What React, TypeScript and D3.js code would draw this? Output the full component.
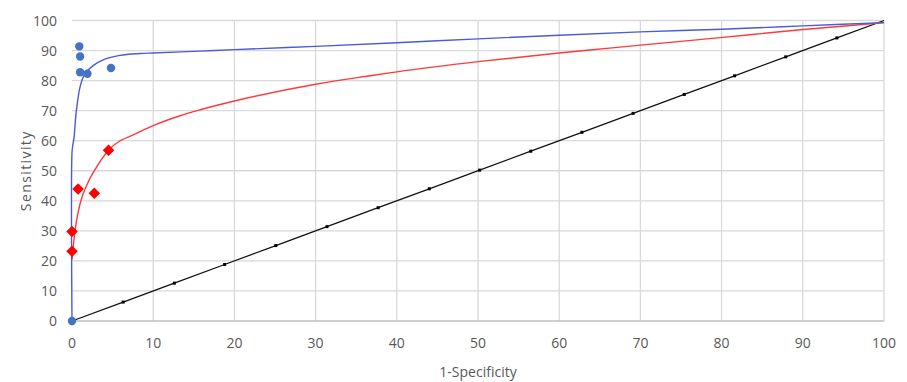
import { useRef, useEffect } from "react";
import * as d3 from "d3";

// fitted ROC curves
const blueCurveX = [0, 0, 0.1, 0.25, 0.5, 1, 1.6, 2.6, 3.9, 5.9, 8.4, 10, 15.8, 20, 30, 40, 50, 60, 70, 80, 90, 100];
const blueCurveY = [0, 56, 58.5, 61, 69, 78, 82.3, 85, 87, 88.4, 89, 89.2, 89.8, 90.3, 91.4, 92.6, 93.9, 95.1, 96.2, 97.1, 98.2, 99.3];

const redCurveX = [0, 0.05, 0.2, 0.5, 1, 1.9, 2.8, 4.5, 8, 10, 13.3, 15.8, 20, 30, 36.7, 40, 50, 60, 66.2, 70, 79.8, 89.7, 100];
const redCurveY = [20.5, 21.5, 26, 32.4, 39.1, 45.7, 50.2, 56.8, 62.5, 65, 68.3, 70.3, 73.2, 78.8, 81.6, 82.9, 86.3, 89.2, 90.8, 91.8, 94.3, 96.9, 99.3];

// observed study points
const blueX = [0, 0.9, 1.0, 1.0, 1.9, 4.8];
const blueY = [0, 91.4, 88, 82.8, 82.3, 84.2];

const redX = [0, 0, 0.75, 2.75, 4.5];
const redY = [23.2, 29.8, 43.9, 42.5, 56.8];

// chance line
const diagX = [0, 6.3, 12.6, 18.8, 25.1, 31.4, 37.7, 44, 50.2, 56.5, 62.8, 69.1, 75.4, 81.6, 87.9, 94.2, 100];

const ticks = [0, 10, 20, 30, 40, 50, 60, 70, 80, 90, 100];

export default function App() {
  const svgRef = useRef<SVGSVGElement>(null);

  useEffect(() => {
    const svg = d3.select(svgRef.current);
    const width = 907;
    const height = 382;
    svg.selectAll("*").remove();
    svg.attr("viewBox", `0 0 ${width} ${height}`);

    svg.append("rect").attr("width", width).attr("height", height).attr("fill", "#fff");

    const x = d3.scaleLinear().domain([0, 100]).range([72, 884]);
    const y = d3.scaleLinear().domain([0, 100]).range([321, 20.5]);
    const font = "'Open Sans', 'Liberation Sans', sans-serif";

    // gridlines
    svg.append("g")
      .selectAll("line.h")
      .data(ticks.slice(1))
      .join("line")
      .attr("x1", x(0)).attr("x2", x(100))
      .attr("y1", d => y(d)).attr("y2", d => y(d))
      .attr("stroke", "#d9d9d9").attr("stroke-width", 1.3);
    svg.append("g")
      .selectAll("line.v")
      .data(ticks.slice(1))
      .join("line")
      .attr("x1", d => x(d)).attr("x2", d => x(d))
      .attr("y1", y(0)).attr("y2", y(100))
      .attr("stroke", "#d9d9d9").attr("stroke-width", 1.3);

    // bottom axis line
    svg.append("line")
      .attr("x1", x(0)).attr("x2", x(100))
      .attr("y1", y(0)).attr("y2", y(0))
      .attr("stroke", "#bfbfbf").attr("stroke-width", 1.5);

    // tick labels
    svg.append("g")
      .selectAll("text")
      .data(ticks)
      .join("text")
      .attr("x", 57)
      .attr("y", d => y(d) + 5)
      .attr("text-anchor", "end")
      .attr("font-family", font).attr("font-size", 14)
      .attr("fill", "#595959")
      .text(d => d);
    svg.append("g")
      .selectAll("text")
      .data(ticks)
      .join("text")
      .attr("x", d => x(d))
      .attr("y", 348)
      .attr("text-anchor", "middle")
      .attr("font-family", font).attr("font-size", 14)
      .attr("fill", "#595959")
      .text(d => d);

    // axis titles
    svg.append("text")
      .attr("x", x(50)).attr("y", 377)
      .attr("text-anchor", "middle")
      .attr("font-family", font).attr("font-size", 14)
      .attr("fill", "#595959")
      .text("1-Specificity");
    svg.append("text")
      .attr("transform", `translate(31,${y(50)}) rotate(-90)`)
      .attr("text-anchor", "middle")
      .attr("font-family", font).attr("font-size", 14)
      .attr("letter-spacing", 1.4)
      .attr("fill", "#595959")
      .text("Sensitivity");

    // diagonal
    const diag = diagX.map(v => [v, v] as [number, number]);
    svg.append("path")
      .datum(diag)
      .attr("d", d3.line<[number, number]>().x(d => x(d[0])).y(d => y(d[1])))
      .attr("fill", "none").attr("stroke", "#111").attr("stroke-width", 1.3);
    svg.append("g")
      .selectAll("rect")
      .data(diag.slice(1, -1))
      .join("rect")
      .attr("x", d => x(d[0]) - 1.5).attr("y", d => y(d[1]) - 1.5)
      .attr("width", 3).attr("height", 3)
      .attr("fill", "#000");

    const line = d3.line<[number, number]>().x(d => x(d[0])).y(d => y(d[1]));

    // fitted curves
    svg.append("path")
      .datum(redCurveX.map((v, i) => [v, redCurveY[i]] as [number, number]))
      .attr("d", line.curve(d3.curveMonotoneX))
      .attr("fill", "none").attr("stroke", "#ff3a3a").attr("stroke-width", 1.4);
    svg.append("path")
      .datum(blueCurveX.map((v, i) => [v, blueCurveY[i]] as [number, number]))
      .attr("d", line.curve(d3.curveCatmullRom.alpha(0.5)))
      .attr("fill", "none").attr("stroke", "#4a5bd6").attr("stroke-width", 1.4);

    // study points
    svg.append("g")
      .selectAll("path")
      .data(redX.map((v, i) => [v, redY[i]]))
      .join("path")
      .attr("d", d3.symbol().type(d3.symbolDiamond2).size(85))
      .attr("transform", d => `translate(${x(d[0])},${y(d[1])})`)
      .attr("fill", "#ff0000");
    svg.append("g")
      .selectAll("circle")
      .data(blueX.map((v, i) => [v, blueY[i]]))
      .join("circle")
      .attr("cx", d => x(d[0])).attr("cy", d => y(d[1]))
      .attr("r", 4.2)
      .attr("fill", "#4472c4");
  }, []);

  return (
    <svg
      ref={svgRef}
      width={907}
      height={382}
      style={{ position: "absolute", left: 0, top: 0, display: "block" }}
    />
  );
}
